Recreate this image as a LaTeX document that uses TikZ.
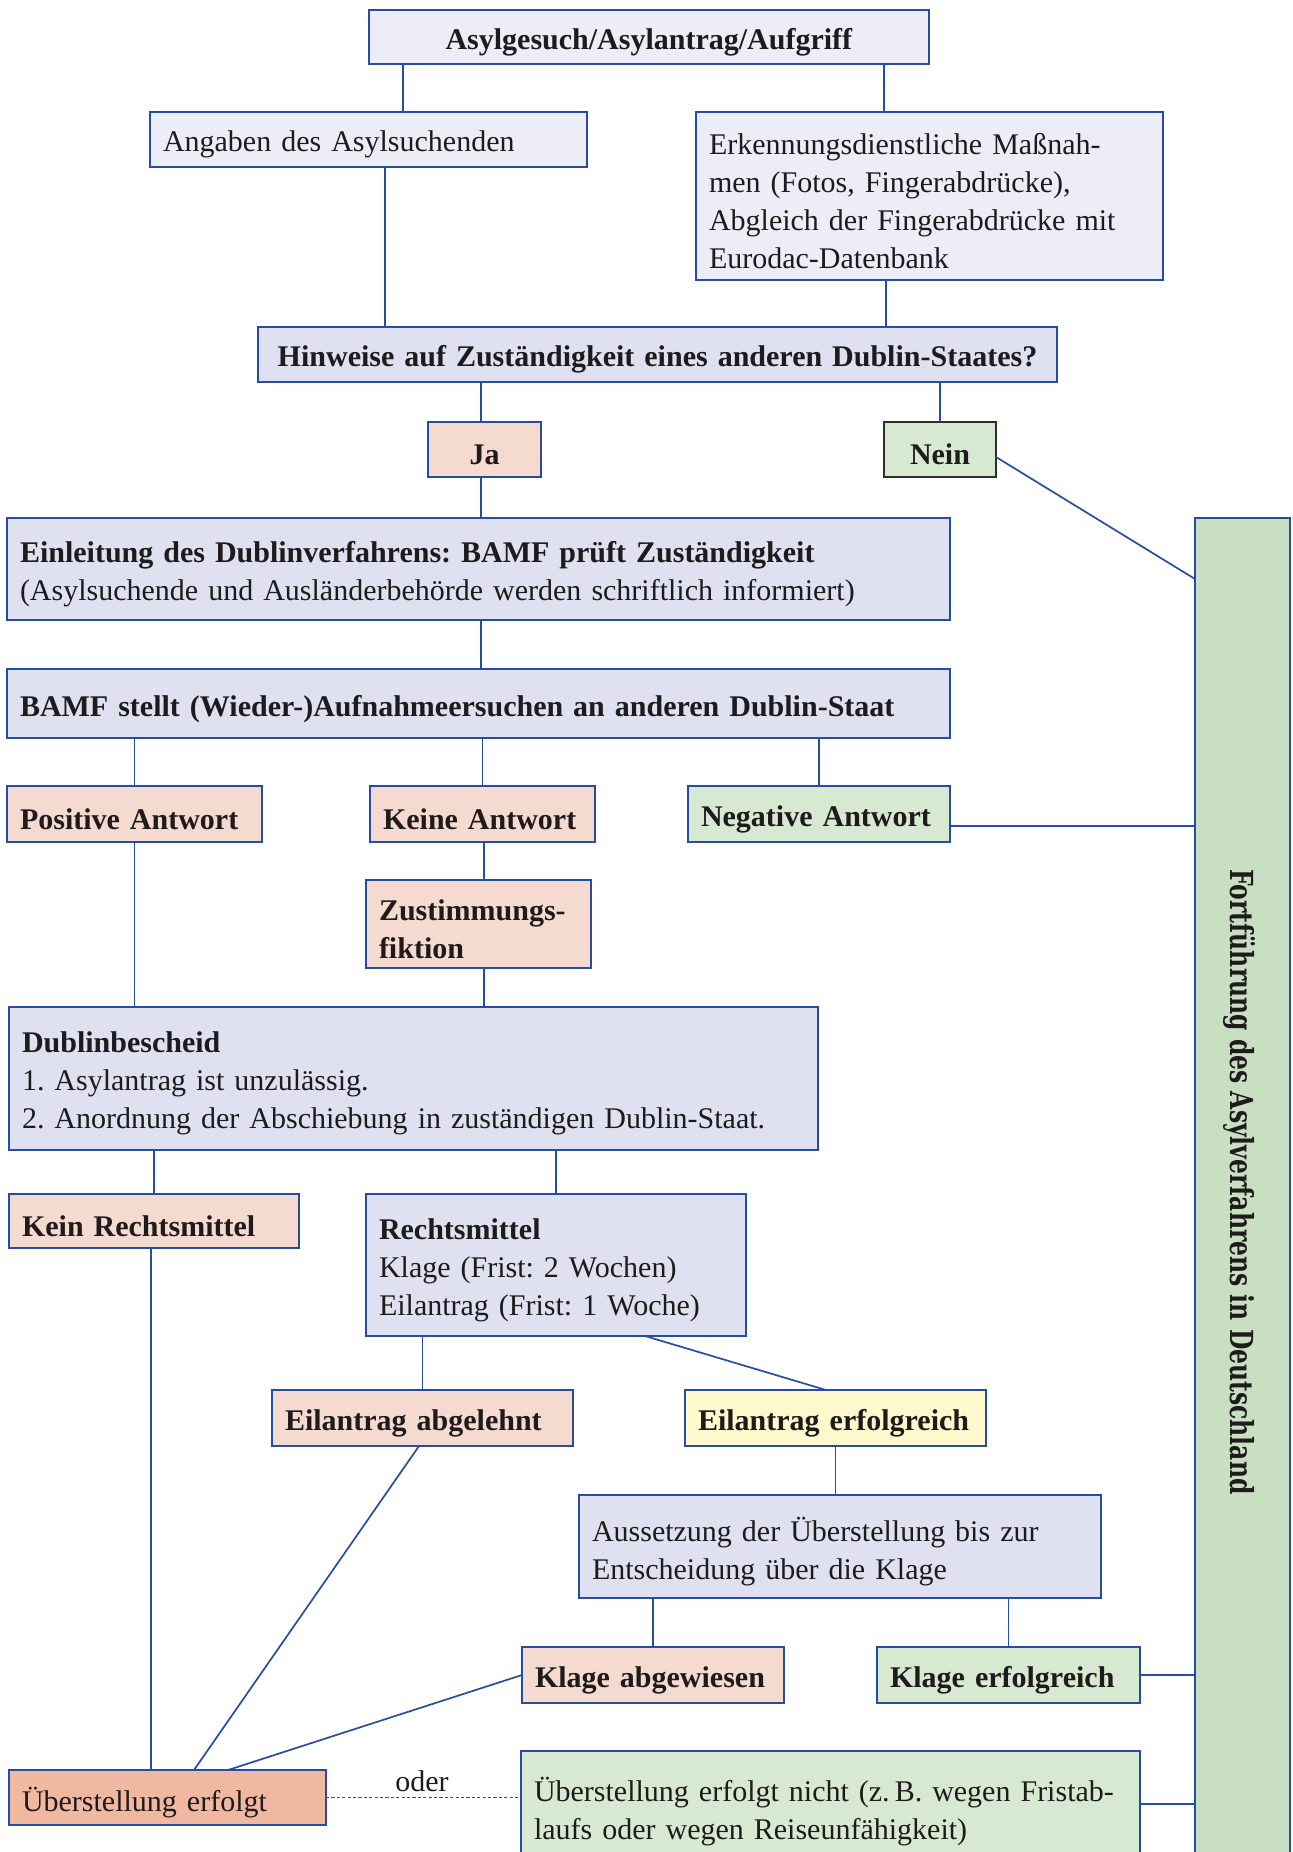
\documentclass[tikz,border=0pt]{standalone}
\usepackage{fontspec}
\setmainfont{Liberation Serif}
\newfontfamily\vertfont{DejaVu Serif}
\usepackage{graphicx}
\usetikzlibrary{calc}
\definecolor{bordc}{HTML}{264EA0}
\definecolor{neinc}{HTML}{2E2E2E}
\definecolor{txt}{HTML}{1F1B1C}
\definecolor{lavA}{HTML}{ECEDF7}
\definecolor{lavB}{HTML}{DFE1F0}
\definecolor{salm}{HTML}{F5DBCF}
\definecolor{salmD}{HTML}{F0B8A0}
\definecolor{grnL}{HTML}{D8E9D2}
\definecolor{grnbar}{HTML}{C8E0C1}
\definecolor{yelL}{HTML}{FEF9CC}
\tikzset{
  box/.style={draw=bordc, line width=1pt, inner sep=0pt, outer sep=0pt},
  boxtext/.style={inner xsep=6.5pt, inner ysep=0pt, outer sep=0pt,
    align=left, text=txt, font=\fontsize{15pt}{19pt}\selectfont\frenchspacing},
  lav/.style={fill=lavA}, lavd/.style={fill=lavB}, sal/.style={fill=salm},
  sald/.style={fill=salmD}, grn/.style={fill=grnL}, yel/.style={fill=yelL},
  ctr/.style={align=center},
  conn/.style={draw=bordc, line width=0.85pt},
}
\newcommand{\flowbox}[7]{%
  \pgfmathsetmacro{\fbw}{(#5-#3)*0.5}%
  \pgfmathsetmacro{\fbh}{(#6-#4)*0.5}%
  \pgfmathsetmacro{\fbt}{(#5-#3-26)*0.5}%
  \node[box,#1,anchor=north west,minimum width=\fbw pt,minimum height=\fbh pt] (#2) at (#3,#4) {};
  \node[boxtext,#1,draw=none,fill=none,text width=\fbt pt,yshift=-2.6pt] (#2t) at (#2.center) {#7};}
\newcommand{\gx}[2]{\coordinate (#1) at (#2,0);}
\newcommand{\gy}[2]{\coordinate (#1) at (0,#2);}
\begin{document}
\begin{tikzpicture}[x=0.5pt,y=-0.5pt]
\useasboundingbox (0,0) rectangle (1292,1852);
% green bar
\node[draw=bordc, fill=grnbar, line width=1pt, anchor=north west, minimum width=47.5pt,
  minimum height=691pt, inner sep=0pt, outer sep=0pt] (fort) at (1195,518) {};
\node[rotate=-90, text=txt, inner sep=0pt] (fortlabel) at (1239,1182)
  {\resizebox{312.5pt}{12.5pt}{\vertfont\bfseries Fortführung des Asylverfahrens in Deutschland}};
% boxes
\flowbox{lav,ctr}{top}{369}{10}{929}{64}{\textbf{Asylgesuch/Asylantrag/Aufgriff}}
\flowbox{lav}{angaben}{150}{112}{587}{167}{Angaben des Asylsuchenden}
\flowbox{lav}{erkennung}{696}{112}{1163}{280}{Erkennungsdienstliche Maßnah-\\men (Fotos, Fingerabdrücke),\\Abgleich der Fingerabdrücke mit\\Eurodac-Datenbank}
\flowbox{lavd,ctr}{hinweise}{258}{327}{1057}{382}{\textbf{Hinweise auf Zuständigkeit eines anderen Dublin-Staates?}}
\flowbox{sal,ctr}{ja}{428}{422}{541}{477}{\textbf{Ja}}
\flowbox{grn,ctr,draw=neinc}{nein}{884}{422}{996}{477}{\textbf{Nein}}
\flowbox{lavd}{einleitung}{7}{518}{950}{620}{\mbox{\textbf{Einleitung des Dublinverfahrens: BAMF prüft Zuständigkeit}}\\\mbox{(Asylsuchende und Ausländerbehörde werden schriftlich informiert)}}
\flowbox{lavd}{bamf}{7}{669}{950}{738}{\mbox{\textbf{BAMF stellt (Wieder-)Aufnahmeersuchen an anderen Dublin-Staat}}}
\flowbox{sal}{positive}{7}{786}{262}{842}{\textbf{Positive Antwort}}
\flowbox{sal}{keine}{370}{786}{595}{842}{\textbf{Keine Antwort}}
\flowbox{grn}{negative}{688}{786}{950}{842}{\textbf{Negative Antwort}}
\flowbox{sal}{zust}{366}{880}{591}{968}{\textbf{Zustimmungs-}\\\textbf{fiktion}}
\flowbox{lavd}{dublin}{9}{1007}{818}{1150}{\textbf{Dublinbescheid}\\1. Asylantrag ist unzulässig.\\\mbox{2. Anordnung der Abschiebung in zuständigen Dublin-Staat.}}
\flowbox{sal}{kein}{9}{1194}{299}{1248}{\textbf{Kein Rechtsmittel}}
\flowbox{lavd}{rechts}{366}{1194}{746}{1336}{\textbf{Rechtsmittel}\\Klage (Frist: 2 Wochen)\\Eilantrag (Frist: 1 Woche)}
\flowbox{sal}{abgelehnt}{272}{1390}{573}{1446}{\textbf{Eilantrag abgelehnt}}
\flowbox{yel}{erfolg}{685}{1390}{986}{1446}{\textbf{Eilantrag erfolgreich}}
\flowbox{lavd}{aussetzung}{579}{1495}{1101}{1598}{Aussetzung der Überstellung bis zur\\Entscheidung über die Klage}
\flowbox{sal}{abgewiesen}{522}{1647}{784}{1703}{\textbf{Klage abgewiesen}}
\flowbox{grn}{klageerf}{877}{1647}{1140}{1703}{\textbf{Klage erfolgreich}}
\flowbox{sald}{uebers}{9}{1770}{326}{1825}{Überstellung erfolgt}
\flowbox{grn}{nicht}{521}{1751}{1140}{1862}{\mbox{Überstellung erfolgt nicht (z.\,B. wegen Fristab-}\\laufs oder wegen Reiseunfähigkeit)}
% guides
\gx{xa}{403}\gx{xb}{884}\gx{xc}{385}\gx{xd}{886}\gx{xe}{481}\gx{xg}{484}
\gx{xk}{151}\gx{xr1}{645}\gx{xr2}{826}\gx{xq}{419}\gx{xs}{194}\gx{xt}{228}
\gy{yn}{457}\gy{yg}{579}\gy{yneg}{826}\gy{yni}{1804}
% connectors
\draw[conn] (xa |- top.south) -- (xa |- angaben.north);
\draw[conn] (xb |- top.south) -- (xb |- erkennung.north);
\draw[conn] (xc |- angaben.south) -- (xc |- hinweise.north);
\draw[conn] (xd |- erkennung.south) -- (xd |- hinweise.north);
\draw[conn] (xe |- hinweise.south) -- (xe |- ja.north);
\draw[conn] (hinweise.south -| nein.north) -- (nein.north);
\draw[conn] (nein.east |- yn) -- (fort.west |- yg);
\draw[conn] (xe |- ja.south) -- (xe |- einleitung.north);
\draw[conn] (xe |- einleitung.south) -- (xe |- bamf.north);
\draw[conn] (bamf.south -| positive.north) -- (positive.north);
\draw[conn] (bamf.south -| keine.north) -- (keine.north);
\draw[conn] (bamf.south -| negative.north) -- (negative.north);
\draw[conn] (negative.east |- yneg) -- (fort.west |- yneg);
\draw[conn] (positive.south) -- (positive.south |- dublin.north);
\draw[conn] (xg |- keine.south) -- (xg |- zust.north);
\draw[conn] (xg |- zust.south) -- (xg |- dublin.north);
\draw[conn] (dublin.south -| kein.north) -- (kein.north);
\draw[conn] (dublin.south -| rechts.north) -- (rechts.north);
\draw[conn] (xk |- kein.south) -- (xk |- uebers.north);
\draw[conn] (rechts.south -| abgelehnt.north) -- (abgelehnt.north);
\draw[conn] (xr1 |- rechts.south) -- (xr2 |- erfolg.north);
\draw[conn] (erfolg.south) -- (erfolg.south |- aussetzung.north);
\draw[conn] (aussetzung.south -| abgewiesen.north) -- (abgewiesen.north);
\draw[conn] (aussetzung.south -| klageerf.north) -- (klageerf.north);
\draw[conn] (klageerf.east) -- (klageerf.east -| fort.west);
\draw[conn] (xq |- abgelehnt.south) -- (xs |- uebers.north);
\draw[conn] (abgewiesen.west) -- (xt |- uebers.north);
\draw[conn, dash pattern=on 1.6pt off 1.1pt] (uebers.east) -- (uebers.east -| nicht.west);
\draw[conn] (nicht.east |- yni) -- (fort.west |- yni);
\node[text=txt, font=\fontsize{15pt}{19pt}\selectfont, anchor=base, inner sep=0pt] (oder) at (422,1791) {oder};
\end{tikzpicture}
\end{document}
